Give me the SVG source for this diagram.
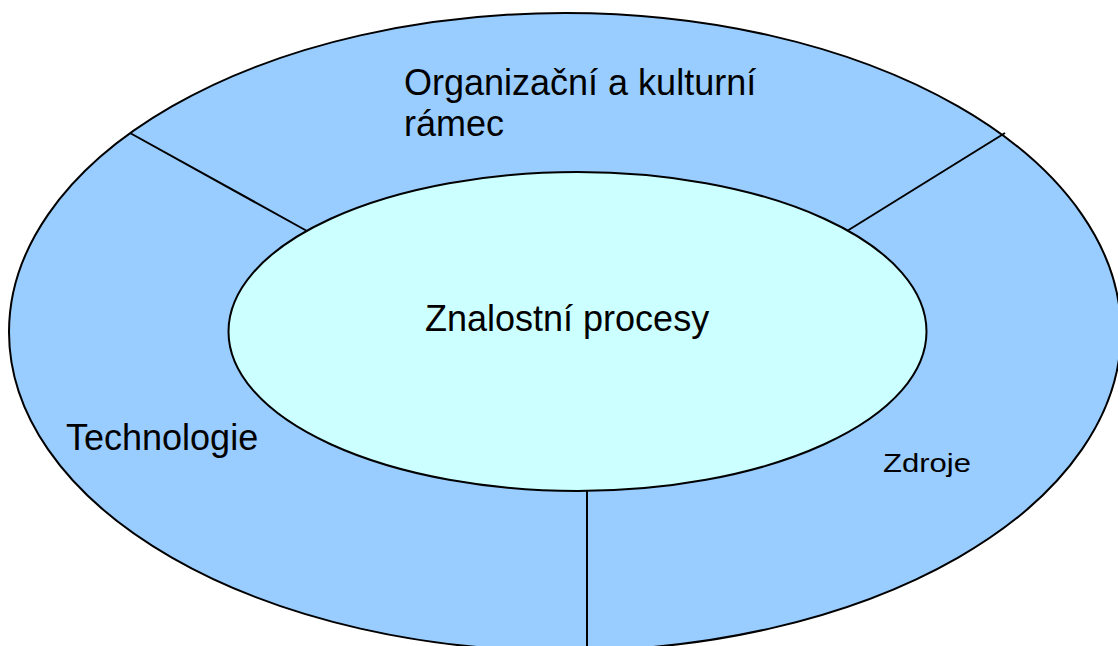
<svg xmlns="http://www.w3.org/2000/svg" width="1118" height="646" viewBox="0 0 1118 646">
  <style>
    .ring { fill: #99ccff; stroke: #000; stroke-width: 2; }
    .core { fill: #ccffff; stroke: #000; stroke-width: 2; }
    .divider { stroke: #000; stroke-width: 2; fill: none; }
    .label { font-family: "Liberation Sans", Arial, sans-serif; fill: #000; }
  </style>
  <rect width="1118" height="646" fill="#ffffff"/>

  <!-- outer ring: framework -->
  <g id="outer-ring">
    <ellipse class="ring" cx="565" cy="332" rx="556" ry="319"/>
  </g>

  <!-- sector dividers -->
  <g id="connectors">
    <line class="divider" x1="130" y1="133" x2="307" y2="231"/>
    <line class="divider" x1="1005" y1="133" x2="847" y2="231"/>
    <line class="divider" x1="587" y1="491" x2="587" y2="660"/>
  </g>

  <!-- inner core -->
  <g id="core">
    <ellipse class="core" cx="577.5" cy="331.5" rx="349" ry="159.5"/>
    <text class="label" x="425" y="331" font-size="36">Znalostní procesy</text>
  </g>

  <g id="org-culture">
    <text class="label" x="404" y="95" font-size="36">Organizační a kulturní</text>
    <text class="label" x="404" y="136" font-size="36">rámec</text>
  </g>

  <g id="technology">
    <text class="label" x="66" y="450" font-size="36">Technologie</text>
  </g>

  <g id="resources">
    <text class="label" x="883" y="472" font-size="25" textLength="88" lengthAdjust="spacingAndGlyphs">Zdroje</text>
  </g>
</svg>
